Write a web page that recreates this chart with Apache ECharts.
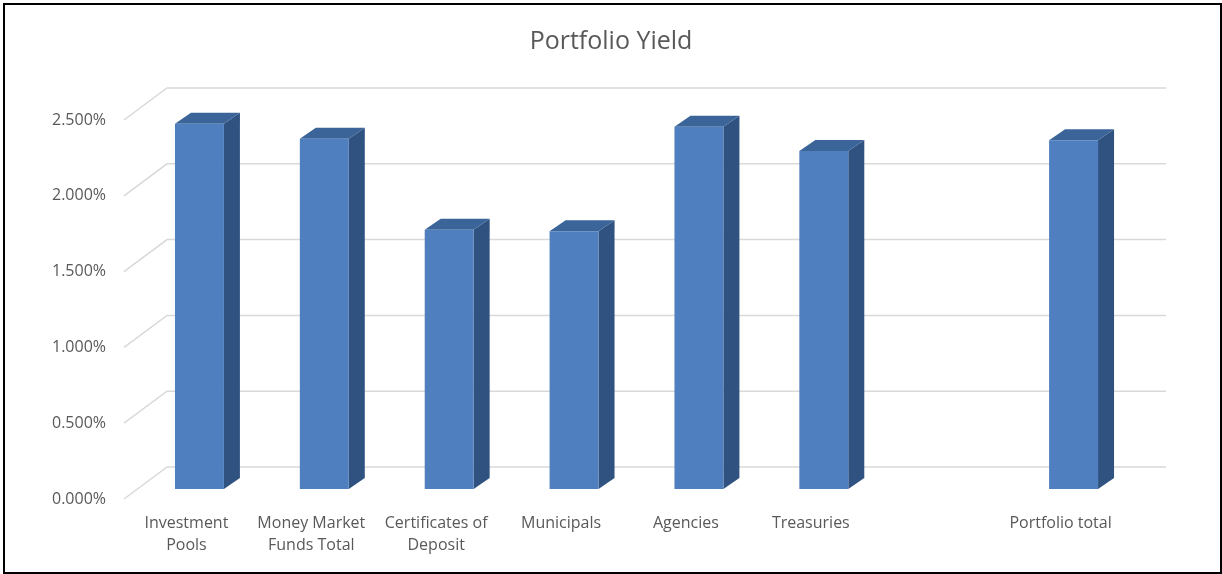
<!DOCTYPE html>
<html>
<head>
<meta charset="utf-8">
<script src="https://cdn.jsdelivr.net/npm/echarts@6/dist/echarts.min.js"></script>
<style>
html,body{margin:0;padding:0;background:#fff;}
#chart{position:absolute;left:0;top:0;width:1222px;height:574px;}
#frame{position:absolute;left:3px;top:3px;width:1219px;height:571px;border:2px solid #000;box-sizing:border-box;pointer-events:none;}
</style>
</head>
<body>
<div id="chart"></div>
<div id="frame"></div>
<script>
// Data
const titleText = 'Portfolio Yield';
const categories = ['Investment\nPools', 'Money Market\nFunds Total', 'Certificates of\nDeposit', 'Municipals', 'Agencies', 'Treasuries', '', 'Portfolio total'];
const yieldValues = [2.41, 2.31, 1.71, 1.70, 2.39, 2.23, null, 2.30]; // percent
const yTicks = [0, 0.5, 1.0, 1.5, 2.0, 2.5];

const chart = echarts.init(document.getElementById('chart'), null, {renderer: 'canvas'});
const FONT = '"Open Sans", "Noto Sans", sans-serif';
const TXT = '#595959';

// 3D geometry (pixels)
const WALL_DX = 43, WALL_DY = -32;     // front plane to back wall
const BAR_DX = 13, BAR_DY = -10;       // front plane to bar front face
const DEP_DX = 16, DEP_DY = -11;       // bar depth
const BAR_FRAC = 0.392;

const barData = [];
yieldValues.forEach((v, i) => { if (v !== null) barData.push([i, v]); });

const option = {
  backgroundColor: '#fff',
  animation: false,
  title: {
    text: titleText, left: 'center', top: 24,
    textStyle: {fontFamily: FONT, fontSize: 25, fontWeight: 'normal', color: TXT}
  },
  grid: {left: 124, right: 99, top: 120, bottom: 75, containLabel: false},
  xAxis: {
    type: 'category', data: categories, boundaryGap: true,
    axisLine: {show: false}, axisTick: {show: false}, splitLine: {show: false},
    axisLabel: {interval: 0, margin: 13, fontFamily: FONT, fontSize: 16, lineHeight: 22, color: TXT}
  },
  yAxis: {
    type: 'value', min: 0, max: 2.5, interval: 0.5,
    axisLine: {show: false}, axisTick: {show: false}, splitLine: {show: false},
    axisLabel: {margin: 18, fontFamily: FONT, fontSize: 16, color: TXT,
      formatter: v => v.toFixed(3) + '%'}
  },
  series: [
    {
      type: 'custom', silent: true, z: 1,
      data: yTicks.map(v => [0, v]),
      renderItem: function (params, api) {
        const cs = params.coordSys;
        const y = api.coord([0, api.value(1)])[1];
        return {
          type: 'polyline',
          shape: {points: [[cs.x, y], [cs.x + WALL_DX, y + WALL_DY], [cs.x + cs.width + WALL_DX, y + WALL_DY]]},
          style: {stroke: '#d9d9d9', lineWidth: 1.5, fill: null}
        };
      }
    },
    {
      type: 'custom', silent: true, z: 2,
      data: barData,
      renderItem: function (params, api) {
        const p = api.coord([api.value(0), api.value(1)]);
        const b = api.coord([api.value(0), 0]);
        const bw = api.size([1, 0])[0] * BAR_FRAC;
        const xl = p[0] + BAR_DX - bw / 2, xr = xl + bw;
        const yt = p[1] + BAR_DY, yb = b[1] + BAR_DY;
        return {
          type: 'group',
          children: [
            {type: 'polygon', shape: {points: [[xr, yt], [xr + DEP_DX, yt + DEP_DY], [xr + DEP_DX, yb + DEP_DY], [xr, yb]]},
              style: {fill: '#2F5280'}},
            {type: 'polygon', shape: {points: [[xl, yt], [xr, yt], [xr + DEP_DX, yt + DEP_DY], [xl + DEP_DX, yt + DEP_DY]]},
              style: {fill: '#3B6499'}},
            {type: 'rect', shape: {x: xl, y: yt, width: bw, height: yb - yt},
              style: {fill: '#4F7FBE'}}
          ]
        };
      }
    }
  ]
};
chart.setOption(option);
</script>
</body>
</html>
